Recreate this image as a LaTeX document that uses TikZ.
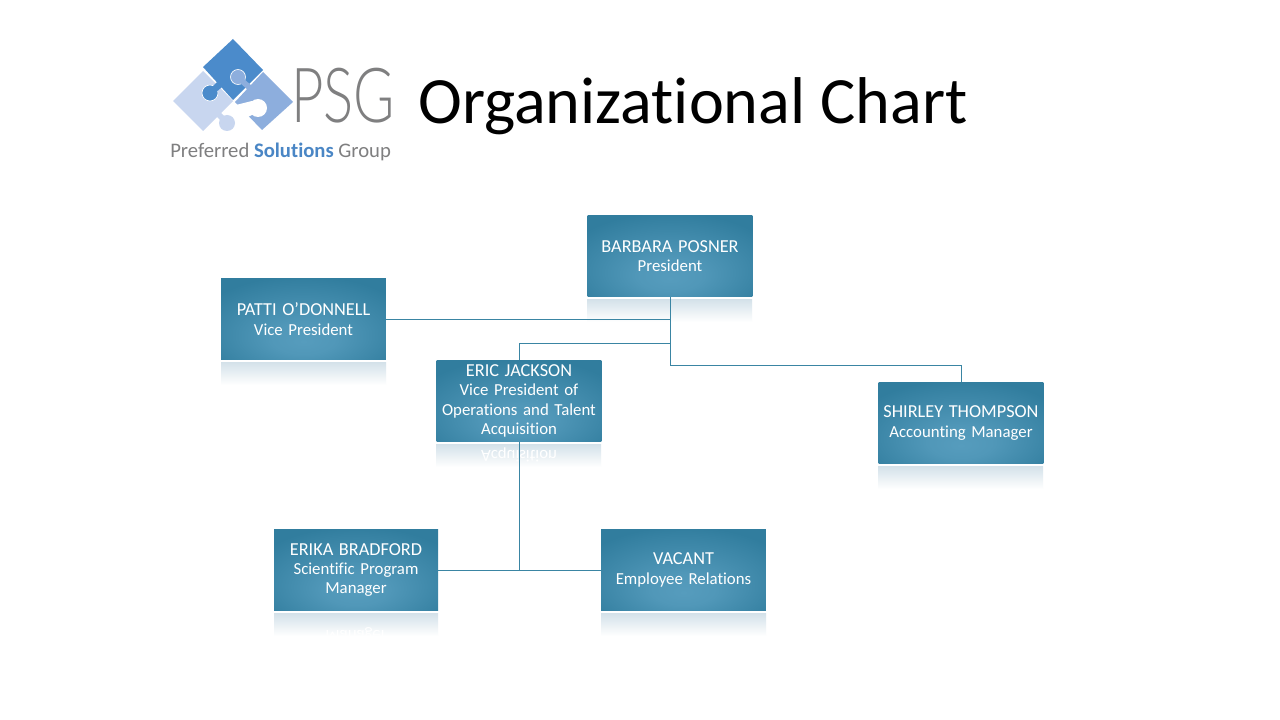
\documentclass[tikz,border=0pt]{standalone}
\usepackage{fontspec}
\setmainfont{Carlito}[Ligatures=NoCommon]
\newfontfamily\psgfont{Lato}[UprightFont=* Light]
\definecolor{boxedge}{HTML}{317D9E}
\definecolor{boxmid}{HTML}{569CBD}
\definecolor{linec}{HTML}{3A85A3}
\definecolor{reflc}{HTML}{D3E1E9}
\definecolor{pdark}{HTML}{4B8BCB}
\definecolor{pmid}{HTML}{8DAEDD}
\definecolor{plight}{HTML}{C8D6EF}
\definecolor{logogray}{HTML}{7F7F80}
\definecolor{logoblue}{HTML}{4A86C5}
\pgfdeclareradialshading{boxshade}{\pgfpoint{0bp}{-14bp}}{%
  color(0bp)=(boxmid); color(10bp)=(boxmid!85!boxedge); color(34bp)=(boxedge); color(70bp)=(boxedge)}
\newcommand{\nm}[1]{{\fontsize{13.7pt}{14.6pt}\selectfont #1}}
\tikzset{
  px/.style={x=0.75pt,y=-0.75pt},
  orgbox/.style={rectangle,minimum width=123.5pt,minimum height=61pt,inner sep=0pt,
    shading=boxshade,text=white,align=center,font=\fontsize{12.6pt}{14.6pt}\selectfont,text width=123pt},
  link/.style={draw=linec,line width=0.75pt},
  refl/.style={top color=reflc,bottom color=white,draw=none},
  mirror/.style={text=white,yscale=-1,transform shape,align=center,font=\fontsize{12.6pt}{14.6pt}\selectfont,inner sep=0pt},
  piece/.style={draw=white,line width=0.5pt}
}
\begin{document}
\begin{tikzpicture}[px]
\useasboundingbox[fill=white] (0,0) rectangle (1280,720);
% logo
\fill[plight] (173,101) -- (203,71) -- (233,101) -- (203,131) -- cycle;
\fill[plight] (226,118) -- (222,122) -- (214,114) -- (218,110) -- cycle;
\fill[plight] (227,123) circle (8);
\fill[pmid] (235,102) -- (263,72) -- (293,102) -- (262,130) -- cycle;
\fill[white] (258,108) circle (9);
\fill[white] (252,101) -- (258,112) -- (244,119) -- (236,105) -- cycle;
\fill[pdark] (203,67) -- (233,39) -- (263,70) -- (233,100) -- cycle;
\fill[pdark,piece] (210,93) circle (8);
\fill[pdark] (210,89) -- (214,94) -- (222,87) -- (217,82) -- cycle;
\fill[pmid,piece] (238,77) circle (7.5);
\fill[pmid] (243,78) -- (239,82) -- (249,91) -- (253,87) -- cycle;
\node[anchor=west,inner sep=0pt,text=logogray,xscale=0.74,transform shape,font=\psgfont\fontsize{57pt}{57pt}\selectfont] (psg) at (291,96) {PSG};
\node[anchor=west,inner sep=0pt,text=logogray,font=\fontsize{15.5pt}{15.5pt}\selectfont] (group) at (170,151.5)
  {Preferred \textcolor{logoblue}{\textbf{Solutions}} Group};
% title
\node[anchor=west,inner sep=0pt,font=\fontsize{49.6pt}{49.6pt}\selectfont] (title) at (418,106) {Organizational Chart};
% reflections
\shade[refl] (587,299) rectangle (752,322);
\shade[refl] (221,362) rectangle (386,385);
\shade[refl] (436,444) rectangle (601,467);
\shade[refl] (878,466) rectangle (1043,489);
\shade[refl] (274,613) rectangle (438,636);
\shade[refl] (601,613) rectangle (766,636);
\begin{scope}
\clip (436,444) rectangle (601,462);
\node[mirror] (mirrorA) at (519,455) {Acquisition};
\end{scope}
\begin{scope}
\clip (274,613) rectangle (438,636);
\node[mirror] (mirrorB) at (356,634) {Manager};
\end{scope}
% boxes
\node[orgbox] (barbara) at (670,256) {\nm{BARBARA POSNER}\\President};
\node[orgbox] (patti) at (303.5,319) {\nm{PATTI O’DONNELL}\\Vice President};
\node[orgbox] (eric) at (519,401) {\nm{ERIC JACKSON}\\Vice President of\\Operations and Talent\\Acquisition};
\node[orgbox] (shirley) at (961,423) {\nm{SHIRLEY THOMPSON}\\Accounting Manager};
\node[orgbox,minimum width=123pt] (erika) at (356,570) {\nm{ERIKA BRADFORD}\\Scientific Program\\Manager};
\node[orgbox] (vacant) at (683.5,570) {\nm{VACANT}\\Employee Relations};
% connectors
\coordinate (eJ) at (barbara.south |- 0,343);
\coordinate (sJ) at (barbara.south |- 0,365);
\coordinate (tJ) at (eric.south |- erika.east);
\draw[link] (patti.east) -| (barbara.south);
\draw[link] (barbara.south) -- (sJ) -| (shirley.north);
\draw[link] (eJ) -| (eric.north);
\draw[link] (eric.south) -- (tJ);
\draw[link] (erika.east) -- (vacant.west);
\end{tikzpicture}
\end{document}
